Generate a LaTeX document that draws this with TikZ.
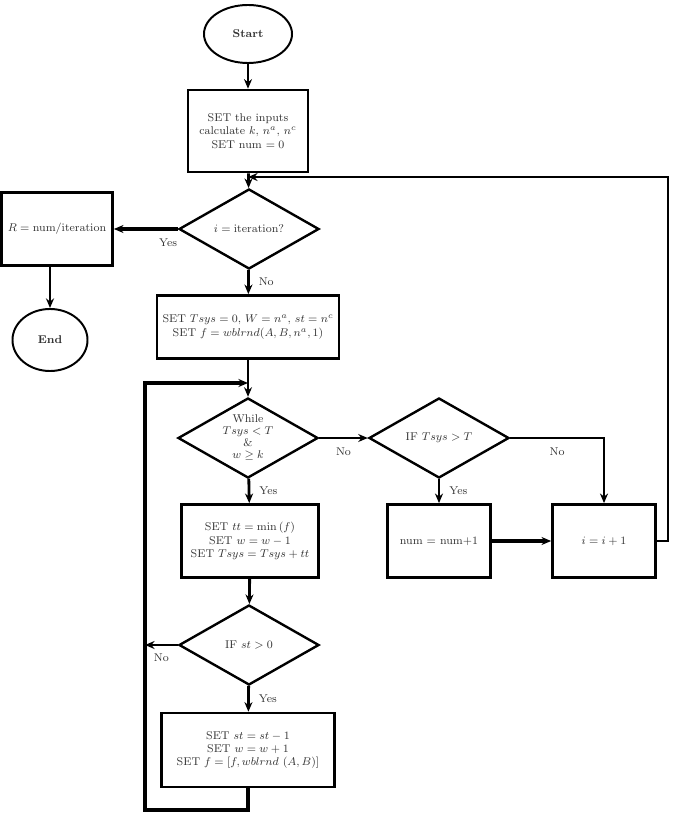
\documentclass[tikz,border=0pt]{standalone}
\usepackage{amsmath,amssymb}
\usepackage{tikz}
\usetikzlibrary{shapes.geometric,arrows.meta}
\usepackage{xcolor}

\begin{document}
\begin{tikzpicture}[x=0.025cm,y=-0.025cm,>={Stealth[length=2.4mm,width=2mm]},
  every node/.style={font=\footnotesize,text=black!80},
  box/.style={draw=black,line width=1.8pt,rectangle,align=center,inner sep=2pt},
  choice/.style={draw=black,line width=1.7pt,diamond,aspect=1.75,inner sep=0pt,align=center,minimum width=3.5cm,minimum height=2cm},
  term/.style={draw=black,line width=1.4pt,ellipse,font=\footnotesize\bfseries},
  link/.style={line width=2pt},
  heavy/.style={line width=3pt}]
\useasboundingbox (0,0) rectangle (677,813);
\node[term,minimum width=2.2cm,minimum height=1.45cm] (start) at (248,34) {Start};
\node[box,minimum width=3cm,minimum height=2.05cm] (inputs) at (248,131) {SET the inputs\\ calculate $k$, $n^a$, $n^c$\\ SET num $=0$};
\node[choice] (check) at (249,229) {$i=\mathrm{iteration}$?};
\node[box,minimum width=2.78cm,minimum height=1.83cm] (ratio) at (57,229) {$R=\mathrm{num}/\mathrm{iteration}$};
\node[term,minimum width=1.875cm,minimum height=1.55cm] (stop) at (50,340) {End};
\node[box,minimum width=4.55cm,minimum height=1.58cm] (init) at (248,327) {SET $Tsys=0$, $W=n^a$, $st=n^c$\\ SET $f=wblrnd(A,B,n^a,1)$};
\node[choice,font=\footnotesize\linespread{0.9}\selectfont] (while) at (248,438) {While\\ $Tsys<T$\\ $\&$\\ $w\geq k$};
\node[choice] (test) at (439,438) {IF $Tsys>T$};
\node[box,minimum width=3.42cm,minimum height=1.83cm] (step) at (250,541) {SET $tt=\min\,(f)$\\ SET $w=w-1$\\ SET $Tsys=Tsys+tt$};
\node[box,minimum width=2.58cm,minimum height=1.83cm] (count) at (439,541) {num $=$ num+1};
\node[box,minimum width=2.58cm,minimum height=1.83cm] (next) at (604,541) {$i=i+1$};
\node[choice] (ifst) at (249,645) {IF $st>0$};
\node[box,minimum width=4.32cm,minimum height=1.85cm] (update) at (248,750) {SET $st=st-1$\\ SET $w=w+1$\\ SET $f=[f,wblrnd\ (A,B)]$};

% corner points of the two loops
\coordinate (back) at (668,177);
\coordinate (rejoin) at (248,177);
\coordinate (loopbot) at (145,810);
\coordinate (looptop) at (248,383);

\draw[->,link] (start) -- (inputs);
\draw[->,link] (inputs) -- (check);
\draw[->,heavy] (check.west) -- node[pos=0.15,below=2pt]{Yes} (ratio.east);
\draw[->,link] (ratio.south -| stop) -- (stop);
\draw[->,link] (check) -- node[right=3pt]{No} (init);
\draw[->,link] (init) -- (while);
\draw[->,link] (while.east) -- node[below=3pt]{No} (test.west);
\draw[->,link] (while) -- node[right=3pt]{Yes} (step);
\draw[->,link] (test) -- node[right=3pt]{Yes} (count);
\draw[->,link] (test.east) -| node[pos=0.25,below=3pt]{No} (next);
\draw[->,heavy] (count) -- (next);
\draw[->,link] (next.east) -| (back) -- (rejoin);
\draw[->,link] (step) -- (ifst);
\draw[->,link] (ifst.west) -- node[below=2pt]{No} (ifst.west -| loopbot);
\draw[->,link] (ifst) -- node[right=3pt]{Yes} (update);
\draw[->,heavy] (update.south) |- (loopbot) |- (looptop);
\end{tikzpicture}
\end{document}
